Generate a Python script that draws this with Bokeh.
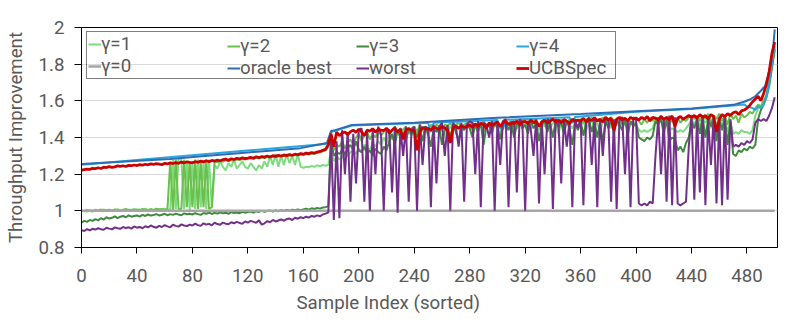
from bokeh.plotting import figure
from bokeh.models import Range1d, FixedTicker, CustomJSTickFormatter, Legend, LegendItem, Title
from bokeh.embed import file_html
from bokeh.resources import INLINE

# ---------------- data (sample index step 2 for the noisy series) ----------------
ucbspec = (
    [1.222,1.225,1.228,1.226,1.232,1.230,1.235,1.231,1.238,1.236,1.241,1.237,1.240,1.245,1.243,1.246,1.242,1.248,1.246,1.250] +
    [1.247,1.252,1.249,1.254,1.251,1.256,1.253,1.258,1.255,1.252,1.259,1.256,1.261,1.258,1.263,1.259,1.266,1.262,1.267,1.264] +
    [1.262,1.268,1.265,1.271,1.267,1.273,1.268,1.275,1.271,1.277,1.273,1.279,1.282,1.276,1.284,1.280,1.287,1.283,1.289,1.285] +
    [1.288,1.292,1.287,1.295,1.290,1.296,1.293,1.299,1.294,1.301,1.297,1.303,1.299,1.305,1.301,1.307,1.303,1.309,1.306,1.312] +
    [1.309,1.315,1.312,1.318,1.315,1.321,1.324,1.330,1.335,1.360,1.420,1.350,1.430,1.410,1.425,1.430,1.415,1.432,1.440,1.428] +
    [1.445,1.432,1.410,1.440,1.435,1.448,1.430,1.445,1.440,1.438,1.450,1.425,1.440,1.452,1.430,1.445,1.390,1.440,1.450,1.438] +
    [1.440,1.330,1.430,1.455,1.445,1.450,1.440,1.458,1.450,1.445,1.460,1.452,1.440,1.370,1.455,1.462,1.450,1.465,1.455,1.460] +
    [1.468,1.455,1.475,1.460,1.478,1.470,1.450,1.480,1.465,1.475,1.485,1.460,1.478,1.490,1.470,1.482,1.475,1.490,1.468,1.485] +
    [1.488,1.475,1.495,1.480,1.490,1.460,1.485,1.495,1.478,1.490,1.500,1.485,1.495,1.480,1.498,1.490,1.475,1.500,1.488,1.495] +
    [1.490,1.505,1.485,1.500,1.492,1.508,1.490,1.500,1.485,1.510,1.495,1.505,1.440,1.500,1.510,1.495,1.505,1.490,1.510,1.500] +
    [1.505,1.495,1.510,1.500,1.515,1.490,1.510,1.505,1.495,1.515,1.500,1.510,1.495,1.518,1.460,1.505,1.515,1.500,1.510,1.520] +
    [1.510,1.520,1.505,1.525,1.510,1.520,1.500,1.525,1.515,1.430,1.500,1.525,1.515,1.530,1.520,1.535,1.540,1.525,1.545,1.550] +
    [1.560,1.575,1.595,1.610,1.625,1.600,1.640,1.690,1.760,1.860,1.920]
)

worst = (
    [0.895,0.890,0.900,0.893,0.902,0.898,0.905,0.900,0.897,0.908,0.903,0.899,0.910,0.905,0.902,0.912,0.906,0.910,0.903,0.915] +
    [0.908,0.912,0.905,0.916,0.910,0.920,0.913,0.908,0.918,0.912,0.922,0.915,0.910,0.924,0.918,0.914,0.926,0.920,0.917,0.925] +
    [0.920,0.930,0.922,0.918,0.932,0.925,0.929,0.921,0.935,0.928,0.924,0.936,0.930,0.927,0.938,0.932,0.940,0.934,0.929,0.942] +
    [0.936,0.945,0.940,0.935,0.948,0.925,0.932,0.944,0.938,0.950,0.942,0.947,0.953,0.946,0.955,0.958,0.950,0.962,0.957,0.965] +
    [0.960,0.968,0.963,0.972,0.968,0.975,0.970,0.980,0.985,0.990,1.400,0.950,1.380,0.960,1.440,1.200,1.430,1.050,1.420,1.150] +
    [1.440,1.450,1.050,1.430,1.000,1.440,1.200,1.460,1.420,1.000,1.450,1.440,1.100,1.460,0.990,1.450,1.300,1.460,1.050,1.440] +
    [1.460,1.000,1.470,1.250,1.460,1.450,1.020,1.470,1.150,1.460,1.480,1.300,1.470,1.000,1.480,1.460,1.350,1.480,1.050,1.470] +
    [1.490,1.480,1.200,1.490,1.020,1.480,1.470,1.400,1.490,1.000,1.480,1.250,1.490,1.500,1.020,1.480,1.490,1.100,1.500,1.480] +
    [1.000,1.490,1.450,1.300,1.500,1.040,1.490,1.200,1.500,1.490,1.010,1.500,1.480,1.150,1.500,1.350,1.490,1.020,1.500,1.450] +
    [1.500,1.030,1.490,1.510,1.250,1.500,1.020,1.500,1.300,1.510,1.490,1.050,1.500,1.010,1.500,1.510,1.200,1.500,1.020,1.510] +
    [1.500,1.040,1.030,1.040,1.030,1.050,1.040,1.300,1.510,1.200,1.500,1.050,1.520,1.030,1.510,1.040,1.030,1.040,1.050,1.350] +
    [1.520,1.060,1.510,1.100,1.520,1.030,1.500,1.250,1.520,1.040,1.510,1.030,1.520,1.060,1.500,1.350,1.360,1.350,1.370,1.360] +
    [1.380,1.370,1.390,1.480,1.500,1.490,1.500,1.490,1.520,1.560,1.620]
)

gamma3 = (
    [0.935,0.945,0.940,0.950,0.945,0.955,0.948,0.960,0.952,0.965,0.958,0.962,0.970,0.960,0.968,0.972,0.965,0.975,0.968,0.972] +
    [0.975,0.968,0.978,0.972,0.980,0.974,0.977,0.982,0.975,0.979,0.984,0.976,0.982,0.978,0.985,0.980,0.976,0.986,0.981,0.984] +
    [0.980,0.987,0.982,0.978,0.988,0.984,0.990,0.983,0.989,0.985,0.992,0.986,0.990,0.984,0.993,0.988,0.991,0.987,0.995,0.990] +
    [0.993,0.996,0.990,0.998,0.994,1.000,0.995,0.999,1.002,0.996,1.003,0.998,1.004,1.000,1.005,1.001,1.006,1.003,1.008,1.004] +
    [1.008,1.012,1.006,1.014,1.010,1.016,1.012,1.018,1.020,1.025,1.380,1.300,1.320,1.310,1.330,1.310,1.340,1.360,1.330,1.380] +
    [1.330,1.320,1.350,1.310,1.330,1.300,1.340,1.320,1.310,1.350,1.330,1.380,1.420,1.360,1.440,1.400,1.430,1.380,1.450,1.420] +
    [1.440,1.400,1.450,1.380,1.460,1.420,1.350,1.450,1.430,1.460,1.360,1.440,1.460,1.400,1.470,1.430,1.380,1.460,1.440,1.470] +
    [1.450,1.400,1.470,1.430,1.480,1.360,1.460,1.470,1.420,1.480,1.450,1.390,1.470,1.480,1.440,1.480,1.400,1.470,1.490,1.450] +
    [1.470,1.420,1.490,1.450,1.480,1.380,1.470,1.490,1.430,1.480,1.400,1.490,1.460,1.480,1.420,1.490,1.450,1.360,1.480,1.440] +
    [1.490,1.410,1.480,1.500,1.430,1.490,1.400,1.480,1.370,1.490,1.450,1.500,1.420,1.490,1.470,1.440,1.500,1.410,1.490,1.460] +
    [1.480,1.400,1.390,1.380,1.400,1.390,1.410,1.490,1.470,1.500,1.420,1.500,1.380,1.400,1.390,1.330,1.350,1.320,1.370,1.400] +
    [1.490,1.450,1.500,1.420,1.510,1.400,1.500,1.460,1.510,1.380,1.500,1.440,1.510,1.360,1.490,1.310,1.300,1.330,1.320,1.340] +
    [1.330,1.350,1.340,1.360,1.500,1.550,1.580,1.620,1.680,1.780,1.880]
)

gamma1 = (
    [0.998,1.002,0.996,1.004,1.000,1.006,0.999,1.003,1.008,1.001,1.005,0.998,1.004,1.009,1.002,1.006,1.000,1.007,1.003,1.010] +
    [1.004,1.008,1.002,1.012,1.005,1.009,1.003,1.008,1.010,1.005,1.012,1.007,1.004,1.280,1.010,1.290,1.280,1.010,1.270,1.005] +
    [1.270,1.010,1.280,1.020,1.270,1.010,1.280,1.020,1.250,1.230,1.270,1.240,1.220,1.260,1.240,1.280,1.230,1.250,1.270,1.240] +
    [1.230,1.260,1.240,1.220,1.250,1.230,1.270,1.240,1.300,1.250,1.310,1.240,1.300,1.250,1.310,1.260,1.300,1.250,1.310,1.240] +
    [1.235,1.240,1.238,1.245,1.240,1.248,1.243,1.250,1.246,1.250,1.330,1.270,1.300,1.280,1.290,1.310,1.300,1.320,1.330,1.310] +
    [1.340,1.320,1.360,1.350,1.330,1.370,1.350,1.380,1.360,1.400,1.370,1.420,1.390,1.410,1.440,1.400,1.430,1.420,1.450,1.410] +
    [1.440,1.420,1.450,1.430,1.460,1.410,1.450,1.440,1.460,1.420,1.450,1.460,1.430,1.460,1.440,1.470,1.450,1.430,1.460,1.470] +
    [1.460,1.440,1.470,1.450,1.470,1.430,1.460,1.480,1.440,1.470,1.460,1.420,1.480,1.460,1.470,1.440,1.480,1.450,1.470,1.480] +
    [1.460,1.480,1.450,1.480,1.470,1.440,1.480,1.460,1.490,1.450,1.480,1.470,1.420,1.480,1.460,1.490,1.470,1.450,1.480,1.490] +
    [1.470,1.490,1.440,1.480,1.490,1.460,1.480,1.430,1.490,1.470,1.500,1.450,1.490,1.480,1.460,1.490,1.470,1.500,1.480,1.490] +
    [1.470,1.440,1.430,1.440,1.430,1.440,1.450,1.500,1.480,1.500,1.460,1.500,1.440,1.450,1.440,1.430,1.440,1.430,1.450,1.470] +
    [1.500,1.470,1.510,1.460,1.500,1.480,1.510,1.450,1.500,1.470,1.510,1.460,1.500,1.430,1.490,1.420,1.430,1.420,1.440,1.430] +
    [1.430,1.420,1.440,1.520,1.560,1.570,1.600,1.630,1.700,1.800,1.890]
)

gamma2 = (
    [1.002,0.997,1.005,1.000,0.996,1.004,1.001,1.007,0.999,1.003,1.006,1.000,1.008,1.003,0.999,1.005,1.010,1.002,1.006,1.004] +
    [1.008,1.003,1.010,1.006,1.002,1.009,1.005,1.012,1.006,1.010,1.004,1.010,1.270,1.005,1.280,1.010,1.010,1.280,1.020,1.270] +
    [1.020,1.280,1.010,1.270,1.020,1.280,1.010,1.020,1.270,1.265,1.270,1.268,1.275,1.270,1.277,1.272,1.280,1.277,1.283,1.280] +
    [1.283,1.287,1.283,1.290,1.286,1.292,1.288,1.294,1.290,1.296,1.292,1.298,1.295,1.300,1.297,1.303,1.299,1.305,1.301,1.307] +
    [1.304,1.310,1.307,1.313,1.310,1.316,1.319,1.324,1.330,1.350,1.400,1.330,1.360,1.350,1.380,1.340,1.370,1.390,1.360,1.400] +
    [1.420,1.380,1.410,1.430,1.390,1.420,1.400,1.440,1.410,1.430,1.450,1.420,1.440,1.460,1.430,1.450,1.440,1.460,1.420,1.450] +
    [1.460,1.430,1.470,1.450,1.460,1.440,1.470,1.450,1.470,1.460,1.440,1.470,1.460,1.480,1.450,1.470,1.480,1.460,1.470,1.480] +
    [1.470,1.480,1.460,1.480,1.470,1.490,1.460,1.480,1.470,1.490,1.480,1.460,1.490,1.470,1.480,1.490,1.460,1.490,1.480,1.490] +
    [1.480,1.490,1.470,1.500,1.480,1.460,1.490,1.500,1.470,1.490,1.500,1.480,1.450,1.500,1.490,1.470,1.500,1.480,1.500,1.490] +
    [1.500,1.480,1.500,1.490,1.510,1.470,1.500,1.490,1.510,1.480,1.500,1.510,1.490,1.500,1.480,1.510,1.500,1.490,1.510,1.500] +
    [1.510,1.490,1.470,1.500,1.480,1.510,1.490,1.510,1.500,1.520,1.490,1.510,1.470,1.500,1.460,1.510,1.480,1.500,1.490,1.510] +
    [1.520,1.500,1.520,1.490,1.520,1.500,1.530,1.480,1.520,1.500,1.530,1.490,1.520,1.470,1.530,1.500,1.520,1.480,1.530,1.510] +
    [1.520,1.540,1.530,1.560,1.580,1.570,1.600,1.630,1.700,1.790,1.880]
)

# sparser series: (sample index, value)
gamma4_x = [0, 176, 178, 180, 195, 250, 252, 254, 300, 302, 304, 306, 352, 354, 356, 400, 440, 470, 478, 480, 484, 486, 488, 490, 492, 494, 496, 498, 500]
gamma4_y = [1.252, 1.365, 1.37, 1.43, 1.465, 1.48, 1.43, 1.48, 1.495, 1.45, 1.445, 1.497, 1.51, 1.48, 1.512, 1.54, 1.555, 1.575, 1.58, 1.57, 1.56, 1.55, 1.57, 1.56, 1.58, 1.62, 1.70, 1.80, 1.90]

oracle_x = [0, 64, 91, 120, 158, 177, 180, 183, 195, 240, 300, 360, 400, 440, 470, 478, 482, 486, 490, 493, 495, 497, 499, 500]
oracle_y = [1.255, 1.283, 1.30, 1.318, 1.342, 1.37, 1.435, 1.44, 1.468, 1.48, 1.508, 1.528, 1.543, 1.558, 1.578, 1.595, 1.607, 1.625, 1.655, 1.68, 1.73, 1.80, 1.90, 1.99]

gamma0_x = [0, 500]
gamma0_y = [1.0, 1.0]

x_ticks = [0, 40, 80, 120, 160, 200, 240, 280, 320, 360, 400, 440, 480]
y_ticks = [0.8, 1.0, 1.2, 1.4, 1.6, 1.8, 2.0]

def idx(vals):
    return list(range(0, 2 * len(vals), 2))

FONT = "Roboto"
TXT = "#595959"
FS = "18.7px"

p = figure(width=785, height=323, output_backend="svg", toolbar_location=None,
           x_range=Range1d(0, 502), y_range=Range1d(0.8, 2.0),
           min_border_left=81, min_border_right=8, min_border_top=27, min_border_bottom=76)
p.background_fill_color = "white"
p.border_fill_color = "white"
p.outline_line_color = "black"
p.outline_line_width = 1

r1 = p.line(idx(gamma1), gamma1, line_color="#7ddc7d", line_width=2)
r2 = p.line(idx(gamma2), gamma2, line_color="#6cbf4c", line_width=2)
r3 = p.line(idx(gamma3), gamma3, line_color="#3f8a3f", line_width=2)
r4 = p.line(gamma4_x, gamma4_y, line_color="#2aa6de", line_width=2)
r0 = p.line(gamma0_x, gamma0_y, line_color="#a6a6a6", line_width=2.5)
ro = p.line(oracle_x, oracle_y, line_color="#2e6db4", line_width=2)
rw = p.line(idx(worst), worst, line_color="#72308a", line_width=2)
ru = p.line(idx(ucbspec), ucbspec, line_color="#cc0000", line_width=2.75)

p.xgrid.visible = False
p.ygrid.grid_line_color = "#d9d9d9"
p.ygrid.grid_line_width = 1

p.xaxis.ticker = FixedTicker(ticks=x_ticks)
p.yaxis.ticker = FixedTicker(ticks=y_ticks)
p.yaxis.formatter = CustomJSTickFormatter(code="return String(Math.round(tick*10)/10);")
for ax in (p.xaxis[0], p.yaxis[0]):
    ax.axis_line_color = "black"
    ax.major_tick_line_color = "black"
    ax.major_tick_in = 0
    ax.minor_tick_line_color = None
    ax.major_label_text_font = FONT
    ax.major_label_text_font_size = FS
    ax.major_label_text_color = TXT
    ax.axis_label_text_font = FONT
    ax.axis_label_text_font_size = FS
    ax.axis_label_text_color = TXT
    ax.axis_label_text_font_style = "normal"
p.xaxis.major_tick_out = 6
p.yaxis.major_tick_out = 7
p.yaxis.axis_label = "Throughput Improvement"
p.xaxis.major_label_standoff = 15
p.yaxis.major_label_standoff = 10
p.yaxis.axis_label_standoff = 9

xt = Title(text="Sample Index (sorted)", align="left", offset=215,
           text_font=FONT, text_font_size=FS, text_color=TXT, text_font_style="normal")
p.add_layout(xt, "below")

def mk_legend(items, x, label_width, border):
    lg = Legend(items=items, location=(x, 168), orientation="vertical")
    lg.label_text_font = FONT
    lg.label_text_font_size = FS
    lg.label_text_color = TXT
    lg.label_text_baseline = "middle"
    lg.glyph_width = 13
    lg.glyph_height = 22
    lg.label_height = 22
    lg.label_width = label_width
    lg.label_standoff = 0
    lg.spacing = 0
    lg.padding = 1
    lg.margin = 0
    lg.background_fill_alpha = 0
    if border:
        lg.border_line_color = "black"
        lg.border_line_width = 1
    else:
        lg.border_line_color = None
    return lg

p.add_layout(mk_legend([LegendItem(label="γ=1", renderers=[r1]), LegendItem(label="γ=0", renderers=[r0])], 5, 513, True))
p.add_layout(mk_legend([LegendItem(label="γ=2", renderers=[r2]), LegendItem(label="oracle best", renderers=[ro])], 146, 20, False))
p.add_layout(mk_legend([LegendItem(label="γ=3", renderers=[r3]), LegendItem(label="worst", renderers=[rw])], 275, 20, False))
p.add_layout(mk_legend([LegendItem(label="γ=4", renderers=[r4]), LegendItem(label="UCBSpec", renderers=[ru])], 435, 20, False))

open("out.html", "w").write(file_html(p, INLINE))
